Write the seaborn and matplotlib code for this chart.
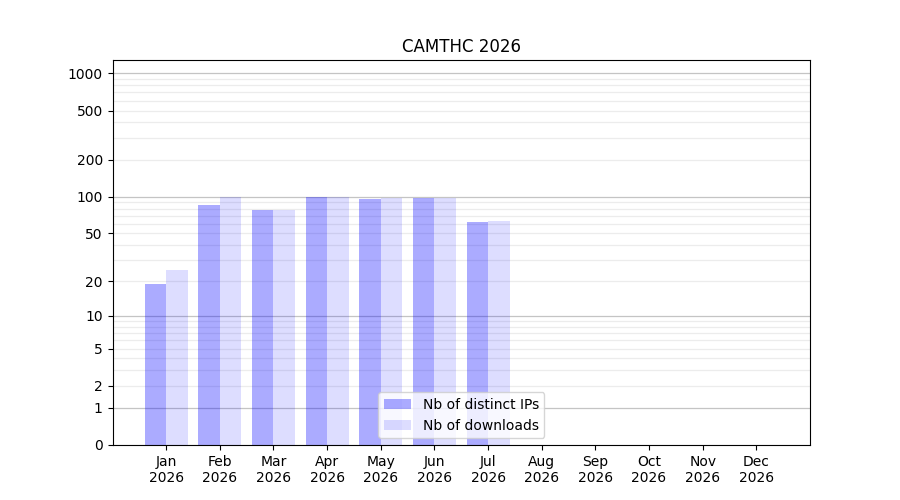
import matplotlib
matplotlib.use("Agg")
import matplotlib.pyplot as plt
import seaborn as sns
import numpy as np
import pandas as pd

# DATA HERE
months = ["Jan", "Feb", "Mar", "Apr", "May", "Jun", "Jul", "Aug", "Sep", "Oct", "Nov", "Dec"]
year = "2026"
distinct_ips = [19, 85, 78, 99, 95, 97, 62]
downloads = [25, 100, 78, 100, 97, 97, 63]
series_names = ["Nb of distinct IPs", "Nb of downloads"]

major_ticks = [0, 1, 2, 5, 10, 20, 50, 100, 200, 500, 1000]
minor_ticks = [3, 4, 6, 7, 8, 9, 30, 40, 60, 70, 80, 90, 300, 400, 600, 700, 800, 900]

# long table for seaborn
df = pd.DataFrame({
    "month": months[:len(distinct_ips)] * 2,
    "value": distinct_ips + downloads,
    "series": [series_names[0]] * len(distinct_ips) + [series_names[1]] * len(downloads),
})

fig, ax = plt.subplots(figsize=(9, 5), dpi=100)

sns.barplot(data=df, x="month", y="value", hue="series", order=months,
            hue_order=series_names, width=0.8, ax=ax)

# blue bars with transparency
alphas = [0.33, 0.135]
for cont, a in zip(ax.containers, alphas):
    for p in cont:
        p.set_facecolor((0, 0, 1, a))
        p.set_edgecolor("none")
        p.set_zorder(2)

# log(1 + x) scale
ax.set_yscale("function", functions=(lambda v: np.log10(np.maximum(v, 0) + 1),
                                     lambda t: 10 ** t - 1))
ax.set_ylim(0, 1280)
ax.set_xlim(-1, 12)

ax.set_yticks(major_ticks)
ax.set_yticklabels([str(t) for t in major_ticks])
ax.set_yticks(minor_ticks, minor=True)
ax.tick_params(axis="y", which="minor", length=0)

# grid lines under the see-through bars
for t in major_ticks:
    c = "#c4c4c4" if t in (1, 10, 100, 1000) else "#ececec"
    ax.axhline(t, color=c, linewidth=0.9, zorder=0.5)
for t in minor_ticks:
    ax.axhline(t, color="#ececec", linewidth=0.9, zorder=0.5)

ax.set_xticks(range(len(months)))
ax.set_xticklabels([m + "\n" + year for m in months])
ax.set_xlabel("")
ax.set_ylabel("")
ax.set_title("CAMTHC 2026")

ax.legend(loc="lower center")
leg = ax.get_legend()
for h, a in zip(leg.legend_handles, alphas):
    h.set_facecolor((0, 0, 1, a))
    h.set_edgecolor("none")

plt.savefig("out.png", dpi=100)
